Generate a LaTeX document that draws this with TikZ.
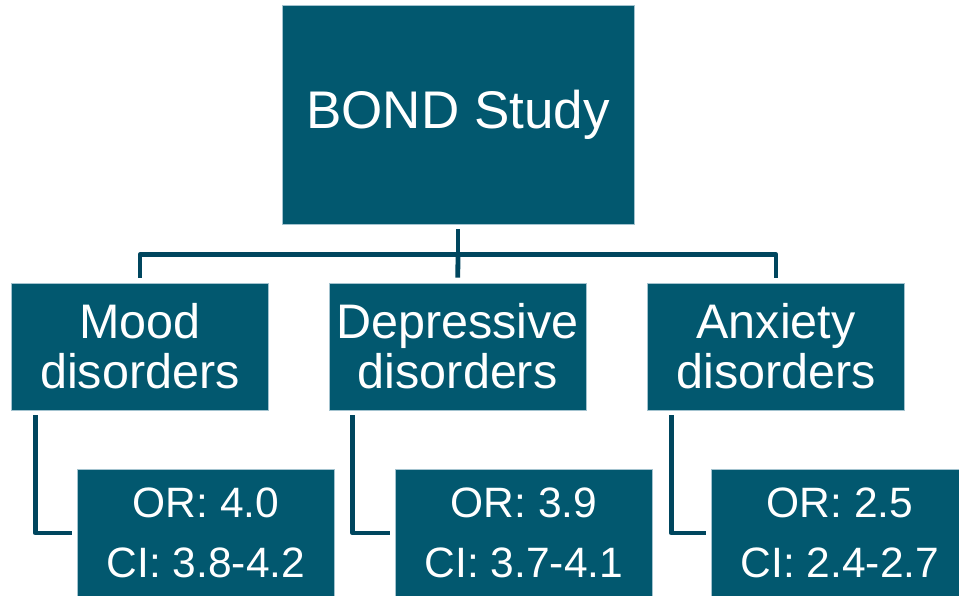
\documentclass[tikz,border=0pt]{standalone}
\usepackage{fontspec}
\setmainfont{Liberation Sans}
\definecolor{boxfill}{HTML}{02586F}
\definecolor{boxedge}{HTML}{A3C3CF}
\definecolor{linecol}{HTML}{00465E}
\begin{document}
\begin{tikzpicture}[x=1pt,y=-1pt,
  box/.style={draw=boxedge, line width=0.7pt, fill=boxfill, text=white, align=center, inner sep=0pt},
  topbox/.style={box, minimum width=352pt, minimum height=219pt, font=\fontsize{53}{56}\selectfont},
  midbox/.style={box, minimum width=257pt, minimum height=127pt, font=\fontsize{48.5}{50}\selectfont},
  resbox/.style={box, minimum width=257pt, minimum height=127pt, font=\fontsize{42.5}{60}\selectfont},
  conn/.style={draw=linecol, line width=4.8pt, line join=round, shorten <=5pt, shorten >=5pt}]
\useasboundingbox (0,0) rectangle (959,595);
\clip (0,0) rectangle (959,595);
\fill[white] (0,0) rectangle (959,595);
\node[topbox] (top) at (458,114.5) {\raisebox{-2pt}{BOND Study}};
\node[midbox] (m1) at (140,346.5) {Mood\\disorders};
\node[midbox] (m2) at (457.7,346.5) {Depressive\\disorders};
\node[midbox] (m3) at (776,346.5) {Anxiety\\disorders};
\node[resbox] (r1) at (206,533) {OR: 4.0\\CI: 3.8-4.2};
\node[resbox] (r2) at (524,533) {OR: 3.9\\CI: 3.7-4.1};
\node[resbox] (r3) at (840,533) {OR: 2.5\\CI: 2.4-2.7};
\coordinate (hub) at ([yshift=-30.5pt]top.south);
\draw[conn, shorten >=0pt] (top.south) -- (hub);
\draw[conn, shorten <=0pt] (hub) -| (m1.north);
\draw[conn, shorten <=0pt] (hub) -- (m2.north);
\draw[conn, shorten <=0pt] (hub) -| (m3.north);
\draw[conn] ([xshift=24pt]m1.south west) |- (r1.west);
\draw[conn] ([xshift=24pt]m2.south west) |- (r2.west);
\draw[conn] ([xshift=24pt]m3.south west) |- (r3.west);
\end{tikzpicture}
\end{document}
